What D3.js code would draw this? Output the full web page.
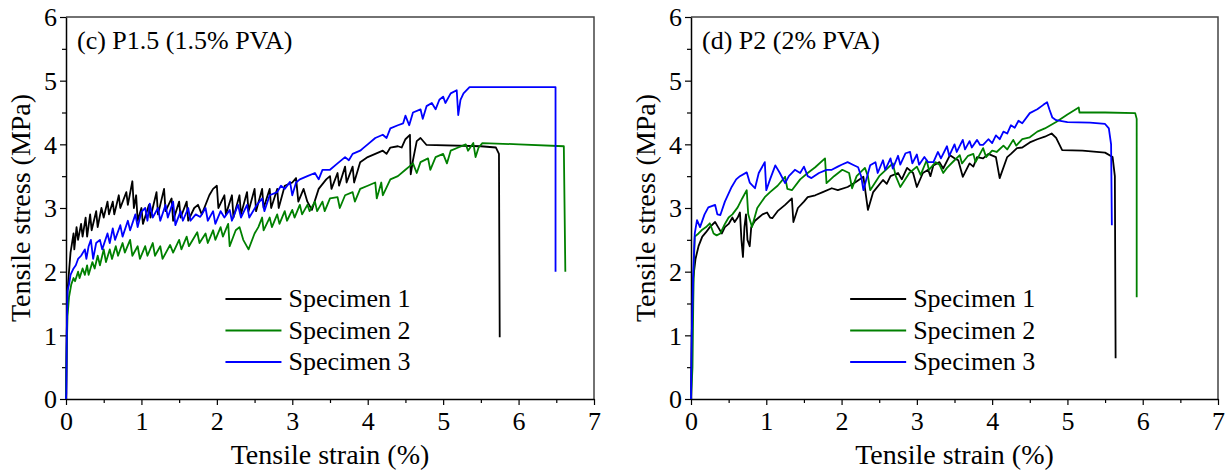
<!DOCTYPE html>
<html>
<head>
<meta charset="utf-8">
<script src="https://cdn.jsdelivr.net/npm/d3@7"></script>
<style>
  html, body { margin: 0; padding: 0; background: #fff; }
  svg text { font-family: "Liberation Serif", "Times New Roman", serif; fill: #000; }
</style>
</head>
<body>
<div id="chart"></div>
<script>
// ---- data (strain %, stress MPa) ----
var xTicks = [0, 1, 2, 3, 4, 5, 6, 7];
var yTicks = [0, 1, 2, 3, 4, 5, 6];
var seriesNames = ['Specimen 1', 'Specimen 2', 'Specimen 3'];
var seriesColors = ['#000000', '#008000', '#0000ff'];
var panelTitles = ['(c) P1.5 (1.5% PVA)', '(d) P2 (2% PVA)'];

var p15Spec1 = [[0,0],[0.01,1.0],[0.02,1.7],[0.04,2.0],[0.06,2.3],[0.08,2.45],[0.1,2.6],[0.11,2.35],[0.14,2.7],[0.16,2.5],[0.2,2.75],[0.22,2.55],[0.26,2.85],[0.28,2.55],[0.32,2.9],[0.34,2.65],[0.4,2.95],[0.42,2.7],[0.47,3.0],[0.5,2.85],[0.55,3.1],[0.57,2.9],[0.62,3.1],[0.64,2.9],[0.7,3.2],[0.72,3.0],[0.8,3.25],[0.82,3.05],[0.88,3.42],[0.9,3.0],[0.93,3.2],[0.95,2.8],[1.0,3.0],[1.02,2.75],[1.1,3.05],[1.12,2.85],[1.2,3.25],[1.22,2.9],[1.3,3.3],[1.32,2.95],[1.4,3.15],[1.42,2.8],[1.5,3.1],[1.52,2.85],[1.6,3.1],[1.62,2.8],[1.7,3.0],[1.75,3.05],[1.8,2.9],[1.9,3.2],[1.95,3.3],[2.0,3.35],[2.02,3.0],[2.1,3.2],[2.12,2.9],[2.2,3.2],[2.22,2.85],[2.3,3.2],[2.32,2.9],[2.4,3.25],[2.42,2.95],[2.5,3.3],[2.52,2.95],[2.6,3.3],[2.62,3.0],[2.7,3.3],[2.72,3.0],[2.8,3.3],[2.82,3.0],[2.9,3.35],[3.0,3.4],[3.05,3.47],[3.08,3.1],[3.15,3.3],[3.2,3.1],[3.26,2.97],[3.35,3.3],[3.45,3.45],[3.5,3.5],[3.52,3.3],[3.6,3.55],[3.62,3.35],[3.7,3.65],[3.72,3.4],[3.8,3.65],[3.82,3.4],[3.9,3.72],[4.0,3.8],[4.1,3.85],[4.2,3.9],[4.25,3.85],[4.3,3.95],[4.4,3.97],[4.45,3.95],[4.5,4.08],[4.56,4.15],[4.57,3.53],[4.6,3.75],[4.65,4.05],[4.7,4.1],[4.78,3.99],[5.5,3.97],[5.7,3.95],[5.74,3.85],[5.75,0.97]];
var p15Spec2 = [[0,0],[0.01,0.8],[0.02,1.3],[0.04,1.6],[0.07,1.8],[0.1,1.9],[0.12,1.85],[0.16,2.0],[0.18,1.9],[0.22,2.05],[0.25,1.95],[0.28,2.1],[0.3,1.95],[0.35,2.15],[0.38,2.05],[0.42,2.25],[0.45,2.1],[0.5,2.35],[0.53,2.15],[0.58,2.35],[0.61,2.2],[0.66,2.4],[0.69,2.25],[0.75,2.45],[0.78,2.3],[0.85,2.5],[0.88,2.25],[0.95,2.4],[0.98,2.2],[1.05,2.4],[1.08,2.25],[1.15,2.45],[1.18,2.25],[1.25,2.4],[1.28,2.2],[1.38,2.42],[1.42,2.3],[1.5,2.5],[1.53,2.35],[1.6,2.55],[1.63,2.4],[1.74,2.62],[1.77,2.45],[1.85,2.6],[1.88,2.45],[1.95,2.65],[1.98,2.5],[2.05,2.7],[2.08,2.55],[2.15,2.75],[2.17,2.4],[2.25,2.65],[2.3,2.7],[2.35,2.5],[2.42,2.35],[2.5,2.6],[2.55,2.7],[2.6,2.85],[2.62,2.65],[2.7,2.85],[2.73,2.7],[2.8,2.9],[2.83,2.75],[2.9,2.95],[2.93,2.8],[3.0,2.97],[3.03,2.85],[3.1,3.05],[3.13,2.9],[3.2,3.05],[3.23,2.95],[3.3,3.1],[3.33,2.95],[3.4,3.1],[3.43,2.95],[3.5,3.15],[3.6,3.17],[3.63,3.0],[3.7,3.2],[3.8,3.25],[3.83,3.1],[3.9,3.3],[4.0,3.35],[4.1,3.4],[4.12,3.15],[4.18,3.4],[4.2,3.2],[4.3,3.45],[4.4,3.5],[4.5,3.6],[4.55,3.65],[4.6,3.7],[4.65,3.55],[4.7,3.72],[4.8,3.78],[4.83,3.6],[4.9,3.8],[5.0,3.85],[5.05,3.7],[5.1,3.9],[5.2,3.95],[5.3,4.0],[5.33,3.9],[5.4,4.02],[5.43,3.8],[5.47,3.95],[5.52,4.02],[6.0,4.0],[6.6,3.97],[6.62,2.0]];
var p15Spec3 = [[0,0],[0.005,0.1],[0.01,1.0],[0.02,1.7],[0.04,1.8],[0.06,1.95],[0.1,2.05],[0.13,2.1],[0.16,2.2],[0.2,2.25],[0.25,2.35],[0.27,2.2],[0.3,2.4],[0.33,2.5],[0.36,2.2],[0.4,2.45],[0.45,2.5],[0.48,2.35],[0.55,2.6],[0.58,2.45],[0.62,2.68],[0.65,2.5],[0.72,2.73],[0.75,2.55],[0.82,2.8],[0.85,2.65],[0.92,2.9],[0.95,2.7],[1.0,2.94],[1.05,3.0],[1.08,2.8],[1.11,3.07],[1.15,2.85],[1.22,3.0],[1.25,2.8],[1.32,3.05],[1.35,2.85],[1.42,3.1],[1.45,2.73],[1.52,2.95],[1.55,2.8],[1.62,3.0],[1.65,2.8],[1.72,2.9],[1.78,2.86],[1.85,3.0],[1.88,2.8],[1.95,2.95],[1.98,2.75],[2.05,2.95],[2.1,2.85],[2.17,2.97],[2.2,2.8],[2.28,3.05],[2.32,2.85],[2.4,3.05],[2.43,2.85],[2.53,3.05],[2.6,3.15],[2.63,2.95],[2.7,3.2],[2.8,3.25],[2.85,3.35],[2.9,3.3],[2.97,3.41],[3.0,3.2],[3.05,3.4],[3.1,3.45],[3.2,3.5],[3.3,3.55],[3.35,3.45],[3.4,3.6],[3.5,3.6],[3.6,3.7],[3.7,3.8],[3.75,3.75],[3.8,3.85],[3.9,3.9],[3.94,3.94],[4.0,4.0],[4.1,4.1],[4.2,4.15],[4.25,4.1],[4.3,4.25],[4.4,4.3],[4.47,4.33],[4.5,4.45],[4.55,4.3],[4.6,4.5],[4.7,4.55],[4.73,4.4],[4.78,4.6],[4.85,4.65],[4.9,4.55],[4.95,4.7],[5.0,4.75],[5.03,4.65],[5.1,4.8],[5.18,4.85],[5.2,4.46],[5.23,4.7],[5.27,4.8],[5.35,4.9],[6.49,4.9],[6.49,2.0]];

var p2Spec1 = [[0,0],[0.01,1.0],[0.02,1.5],[0.03,1.9],[0.06,2.2],[0.1,2.4],[0.15,2.55],[0.2,2.62],[0.25,2.7],[0.32,2.78],[0.36,2.7],[0.41,2.6],[0.45,2.7],[0.5,2.75],[0.55,2.85],[0.58,2.78],[0.62,2.85],[0.65,2.93],[0.67,2.5],[0.69,2.23],[0.71,2.7],[0.73,2.9],[0.75,2.5],[0.78,2.4],[0.8,2.7],[0.85,2.8],[0.9,2.85],[0.95,2.9],[1.01,2.93],[1.05,2.85],[1.08,2.84],[1.15,2.95],[1.25,3.05],[1.34,3.15],[1.36,2.78],[1.42,3.0],[1.5,3.1],[1.55,3.17],[1.65,3.2],[1.75,3.25],[1.87,3.31],[1.95,3.28],[2.08,3.33],[2.18,3.4],[2.29,3.49],[2.35,2.97],[2.42,3.25],[2.55,3.44],[2.6,3.38],[2.65,3.5],[2.75,3.55],[2.8,3.45],[2.87,3.63],[2.95,3.55],[3.0,3.33],[3.08,3.55],[3.15,3.6],[3.18,3.5],[3.22,3.67],[3.3,3.72],[3.35,3.62],[3.44,3.83],[3.5,3.78],[3.55,3.75],[3.61,3.49],[3.7,3.7],[3.75,3.65],[3.8,3.8],[3.88,3.78],[3.95,3.85],[4.05,3.8],[4.1,3.47],[4.2,3.8],[4.25,3.85],[4.33,3.94],[4.4,3.95],[4.5,4.03],[4.6,4.08],[4.7,4.12],[4.79,4.17],[4.85,4.1],[4.93,3.91],[5.2,3.9],[5.5,3.87],[5.6,3.8],[5.63,3.5],[5.64,0.64]];
var p2Spec2 = [[0,0],[0.02,0.5],[0.03,1.5],[0.04,2.2],[0.05,2.55],[0.1,2.6],[0.14,2.65],[0.2,2.7],[0.25,2.76],[0.3,2.6],[0.34,2.57],[0.39,2.6],[0.45,2.75],[0.5,2.85],[0.55,2.9],[0.62,3.01],[0.68,3.15],[0.74,3.28],[0.76,2.9],[0.81,2.7],[0.88,3.0],[0.98,3.17],[1.05,3.25],[1.15,3.35],[1.25,3.49],[1.28,3.3],[1.34,3.28],[1.45,3.45],[1.55,3.55],[1.65,3.64],[1.78,3.78],[1.8,3.39],[1.9,3.5],[2.01,3.6],[2.1,3.55],[2.14,3.31],[2.2,3.5],[2.31,3.63],[2.35,3.5],[2.38,3.28],[2.5,3.5],[2.68,3.7],[2.72,3.5],[2.78,3.33],[2.9,3.55],[3.0,3.65],[3.05,3.52],[3.13,3.75],[3.16,3.6],[3.25,3.72],[3.3,3.68],[3.35,3.55],[3.4,3.63],[3.5,3.75],[3.57,3.83],[3.6,3.7],[3.68,3.82],[3.75,3.85],[3.78,3.72],[3.88,3.94],[3.92,3.8],[4.0,3.9],[4.06,3.88],[4.15,3.98],[4.2,3.92],[4.28,4.07],[4.32,3.98],[4.4,4.08],[4.5,4.11],[4.6,4.2],[4.7,4.25],[4.85,4.35],[5.0,4.47],[5.15,4.58],[5.16,4.5],[5.5,4.5],[5.9,4.49],[5.92,4.4],[5.92,1.6]];
var p2Spec3 = [[0,0],[0.01,1.0],[0.03,2.0],[0.05,2.6],[0.08,2.81],[0.12,2.7],[0.18,2.9],[0.23,3.01],[0.32,3.05],[0.35,2.9],[0.39,2.89],[0.45,3.1],[0.54,3.33],[0.6,3.45],[0.65,3.5],[0.74,3.56],[0.78,3.4],[0.85,3.31],[0.9,3.55],[0.98,3.72],[1.0,3.28],[1.05,3.45],[1.12,3.67],[1.18,3.55],[1.25,3.39],[1.3,3.5],[1.38,3.6],[1.45,3.55],[1.5,3.65],[1.55,3.5],[1.6,3.47],[1.7,3.55],[1.8,3.6],[1.87,3.6],[1.95,3.65],[2.0,3.68],[2.08,3.72],[2.15,3.68],[2.22,3.64],[2.26,3.5],[2.29,3.28],[2.38,3.67],[2.45,3.72],[2.48,3.55],[2.55,3.75],[2.58,3.6],[2.65,3.78],[2.68,3.62],[2.75,3.82],[2.78,3.68],[2.85,3.86],[2.91,3.88],[2.94,3.7],[3.0,3.84],[3.03,3.68],[3.1,3.8],[3.15,3.72],[3.22,3.72],[3.28,3.88],[3.32,3.78],[3.4,3.97],[3.43,3.82],[3.5,4.0],[3.53,3.88],[3.61,4.07],[3.64,3.92],[3.7,4.05],[3.73,3.95],[3.8,4.07],[3.84,3.99],[3.88,3.99],[3.95,4.08],[4.0,4.02],[4.05,4.14],[4.1,4.08],[4.15,4.2],[4.2,4.17],[4.25,4.3],[4.3,4.26],[4.35,4.37],[4.4,4.33],[4.5,4.49],[4.6,4.55],[4.68,4.62],[4.73,4.66],[4.76,4.55],[4.8,4.42],[4.85,4.38],[5.0,4.35],[5.3,4.34],[5.5,4.32],[5.55,4.25],[5.58,4.0],[5.59,2.73]];

var panels = [
    { title: panelTitles[0], series: [p15Spec1, p15Spec2, p15Spec3], left: 66, right: 594 },
    { title: panelTitles[1], series: [p2Spec1, p2Spec2, p2Spec3], left: 691, right: 1218 }
];

var W = 1229, H = 472;
var plotTop = 17, plotBottom = 399;

var svg = d3.select('#chart').append('svg')
    .attr('width', W)
    .attr('height', H);

panels.forEach(function (p) {
    var x = d3.scaleLinear().domain([0, 7]).range([p.left, p.right]);
    var y = d3.scaleLinear().domain([0, 6]).range([plotBottom, plotTop]);
    var g = svg.append('g');

    // frame (top / right)
    g.append('path')
        .attr('d', 'M' + p.left + ',' + plotTop + 'H' + p.right + 'V' + plotBottom)
        .attr('fill', 'none')
        .attr('stroke', '#444')
        .attr('stroke-width', 1.5);

    // minor ticks
    g.append('g')
        .attr('transform', 'translate(0,' + plotBottom + ')')
        .call(d3.axisBottom(x).tickValues(d3.range(0.5, 7, 1)).tickSize(4).tickFormat(''))
        .call(function (s) { s.select('.domain').remove(); });
    g.append('g')
        .attr('transform', 'translate(' + p.left + ',0)')
        .call(d3.axisLeft(y).tickValues(d3.range(0.5, 6, 1)).tickSize(4).tickFormat(''))
        .call(function (s) { s.select('.domain').remove(); });

    // major axes
    var xa = g.append('g')
        .attr('transform', 'translate(0,' + plotBottom + ')')
        .call(d3.axisBottom(x).tickValues(xTicks).tickSize(6).tickSizeOuter(0).tickFormat(d3.format('d')));
    xa.selectAll('text').attr('y', 9).attr('dy', '0.85em').style('font-size', '26px');
    var ya = g.append('g')
        .attr('transform', 'translate(' + p.left + ',0)')
        .call(d3.axisLeft(y).tickValues(yTicks).tickSize(6).tickSizeOuter(0).tickFormat(d3.format('d')));
    ya.selectAll('text').attr('x', -9).attr('dy', '0.34em').style('font-size', '26px');
    g.selectAll('.domain').attr('stroke', '#000').attr('stroke-width', 1.5);
    g.selectAll('.tick line').attr('stroke', '#000').attr('stroke-width', 1.2);

    // curves
    var line = d3.line()
        .x(function (d) { return x(d[0]); })
        .y(function (d) { return y(d[1]); });
    p.series.forEach(function (s, i) {
        g.append('path')
            .datum(s)
            .attr('fill', 'none')
            .attr('stroke', seriesColors[i])
            .attr('stroke-width', 1.8)
            .attr('stroke-linejoin', 'round')
            .attr('d', line);
    });

    // panel title
    g.append('text')
        .attr('x', p.left + 11)
        .attr('y', 49)
        .style('font-size', '26px')
        .text(p.title);

    // axis titles
    g.append('text')
        .attr('x', (p.left + p.right) / 2)
        .attr('y', 464)
        .attr('text-anchor', 'middle')
        .style('font-size', '28px')
        .text('Tensile strain (%)');
    g.append('text')
        .attr('transform', 'translate(' + (p.left - 36) + ',' + ((plotTop + plotBottom) / 2) + ') rotate(-90)')
        .attr('text-anchor', 'middle')
        .style('font-size', '28px')
        .text('Tensile stress (MPa)');

    // legend
    var lx = p.left + (p.right - p.left) * 0.302;
    seriesNames.forEach(function (name, i) {
        var ly = 299 + i * 31.5;
        g.append('line')
            .attr('x1', lx).attr('x2', lx + 56)
            .attr('y1', ly).attr('y2', ly)
            .attr('stroke', seriesColors[i])
            .attr('stroke-width', 1.8);
        g.append('text')
            .attr('x', lx + 63)
            .attr('y', ly + 8)
            .style('font-size', '26px')
            .text(name);
    });
});
</script>
</body>
</html>
